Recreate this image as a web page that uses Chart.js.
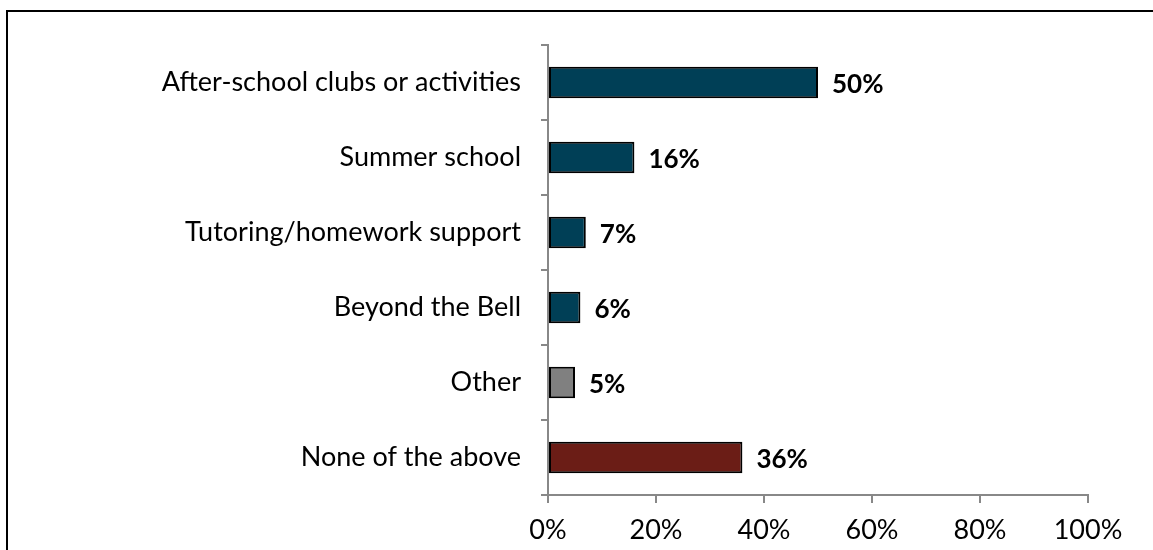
<!DOCTYPE html>
<html>
<head>
<meta charset="utf-8">
<script src="https://cdn.jsdelivr.net/npm/chart.js@4"></script>
<style>
  html, body { margin: 0; padding: 0; background: #fff; }
  #wrap { position: relative; width: 1153px; height: 550px; overflow: hidden; }
  #frame { position: absolute; left: 6px; top: 10px; right: -10px; bottom: -10px;
           border-left: 2px solid #000; border-top: 2px solid #000; }
  canvas { position: absolute; left: 0; top: 0; }
</style>
</head>
<body>
<div id="wrap">
  <div id="frame"></div>
  <canvas id="chart" width="1153" height="550"></canvas>
</div>
<script>
// programme participation, share of respondents
const categories = ['After-school clubs or activities', 'Summer school', 'Tutoring/homework support',
                    'Beyond the Bell', 'Other', 'None of the above'];
const values = [50, 16, 7, 6, 5, 36];
const barColors = ['#003f56', '#003f56', '#003f56', '#003f56', '#808080', '#6b1d16'];
const xTicks = [0, 20, 40, 60, 80, 100];

const FONT = 'Lato, "Open Sans", sans-serif';

// percent label to the right of each bar
const valueLabels = {
  id: 'valueLabels',
  afterDatasetsDraw(chart) {
    const ctx = chart.ctx;
    const meta = chart.getDatasetMeta(0);
    ctx.save();
    ctx.font = 'bold 26px ' + FONT;
    ctx.fillStyle = '#000';
    ctx.textBaseline = 'middle';
    ctx.textAlign = 'left';
    meta.data.forEach((bar, i) => {
      ctx.fillText(values[i] + '%', bar.x + 14, bar.y + 2);
    });
    ctx.restore();
  }
};

new Chart(document.getElementById('chart'), {
  type: 'bar',
  data: {
    labels: categories,
    datasets: [{
      data: values,
      backgroundColor: barColors,
      borderColor: '#000',
      borderWidth: 2,
      borderSkipped: false,
      barPercentage: 0.42,
      categoryPercentage: 1
    }]
  },
  options: {
    indexAxis: 'y',
    responsive: false,
    animation: false,
    layout: { padding: { top: 45, right: 65, left: 0, bottom: 0 } },
    plugins: { legend: { display: false }, tooltip: { enabled: false } },
    scales: {
      x: {
        min: 0, max: 100,
        afterBuildTicks(axis) { axis.ticks = xTicks.map(v => ({ value: v })); },
        afterFit(axis) { axis.height = 55; },
        border: { color: '#888', width: 2 },
        grid: { drawOnChartArea: false, color: '#888', lineWidth: 2, tickLength: 8 },
        ticks: { color: '#000', font: { family: FONT, size: 27 }, padding: 11,
                 maxRotation: 0, callback: v => v + '%' }
      },
      y: {
        afterFit(axis) { axis.width = 548; },
        border: { color: '#888', width: 2 },
        grid: { drawOnChartArea: false, color: '#888', lineWidth: 2, tickLength: 7, offset: true },
        ticks: { color: '#000', font: { family: FONT, size: 27 }, padding: 20 }
      }
    }
  },
  plugins: [valueLabels]
});
</script>
</body>
</html>
